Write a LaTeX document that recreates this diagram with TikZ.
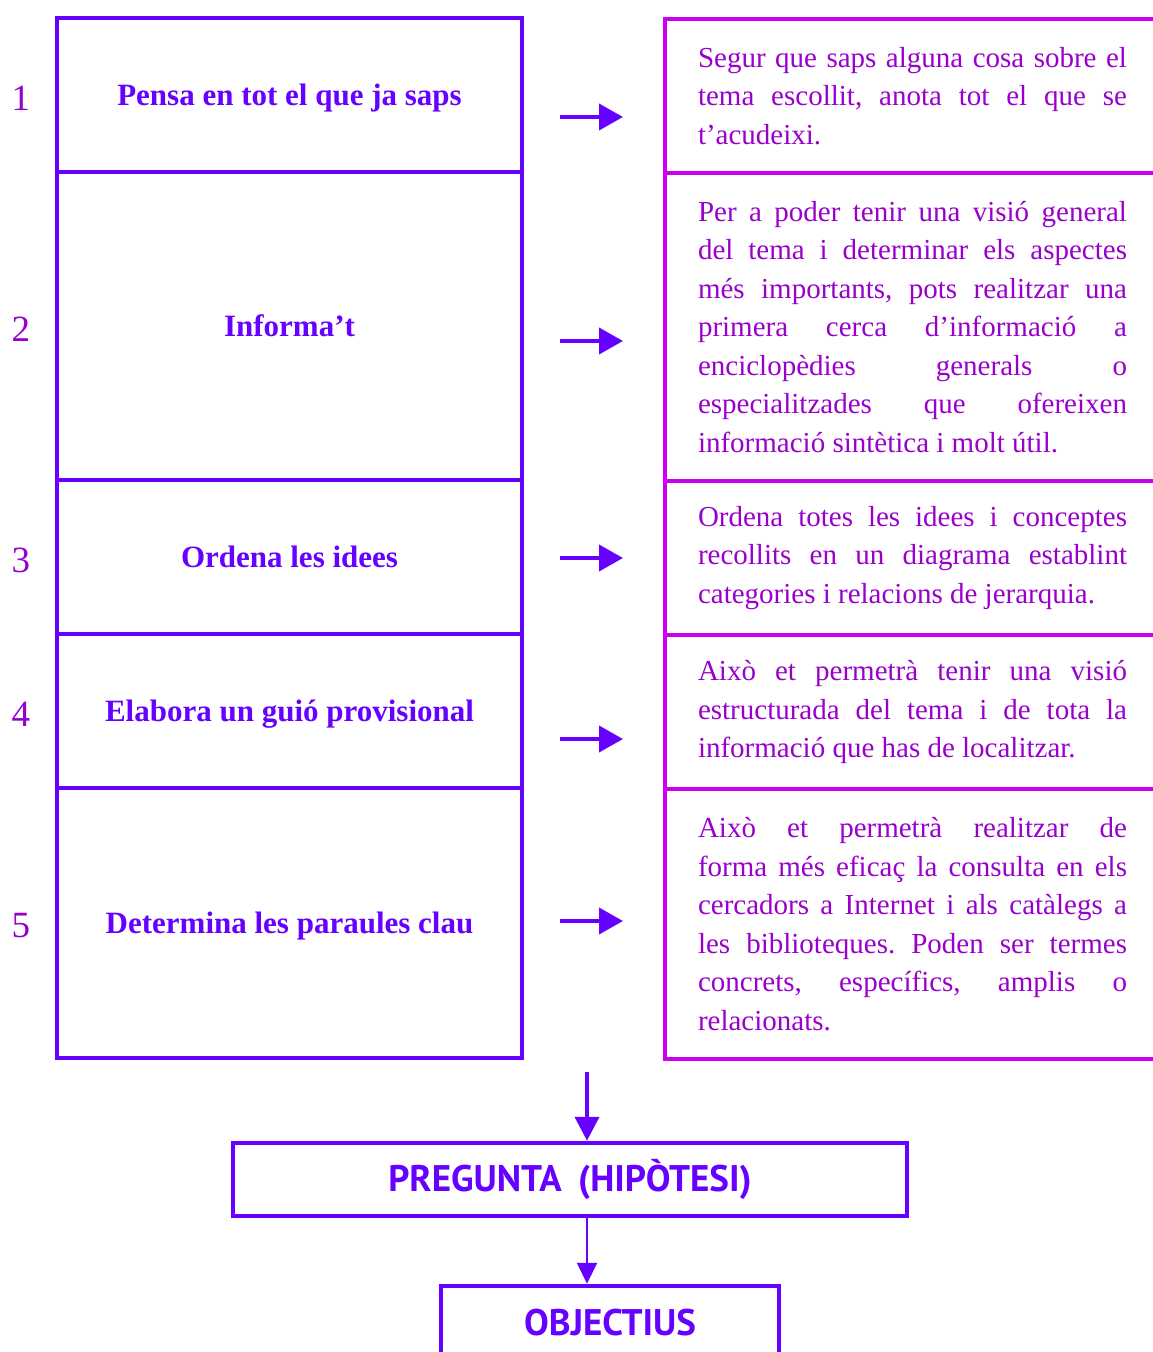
\documentclass[tikz,border=0pt]{standalone}
\usepackage{fontspec}
\setmainfont{Liberation Serif}
\newfontfamily\ptsans{PT Sans}
\usetikzlibrary{arrows.meta}
\definecolor{violetL}{RGB}{102,0,255}
\definecolor{magR}{RGB}{204,0,238}
\definecolor{txtR}{RGB}{153,0,204}
\definecolor{numC}{RGB}{150,0,205}
\hyphenpenalty=10000
\exhyphenpenalty=10000
\frenchspacing
\begin{document}
\begin{tikzpicture}[x=1pt,y=-1pt,
  lbox/.style={draw=violetL, line width=4.5pt, minimum width=465pt, inner sep=0pt,
    text=violetL, text depth=0pt, font=\fontsize{31}{36}\selectfont\bfseries},
  rbox/.style={draw=magR, line width=4.5pt, minimum width=495pt, inner sep=0pt,
    text=txtR, text width=429pt, align=justify,
    font=\fontsize{29}{38.5}\selectfont},
  num/.style={text=numC, font=\fontsize{37}{40}\selectfont, inner sep=0pt},
  harr/.style={draw=violetL, line width=4pt, -{Triangle[length=24pt,width=26pt]}},
  varr/.style={draw=violetL, line width=4pt, -{Triangle[length=24pt,width=24pt]}},
  tarr/.style={draw=violetL, line width=2pt, -{Triangle[length=21pt,width=20pt]}},
  sbox/.style={draw=violetL, line width=4.5pt, inner sep=0pt, text=violetL,
    font=\ptsans\bfseries\fontsize{37}{40}\selectfont}]
\useasboundingbox (0,0) rectangle (1153,1352);
\clip (0,0) rectangle (1153,1352);

% left boxes
\node[lbox, minimum height=154pt] (L1) at (289.5,95) {Pensa en tot el que ja saps};
\node[lbox, minimum height=308pt] (L2) at (289.5,326) {Informa’t};
\node[lbox, minimum height=154pt] (L3) at (289.5,557) {Ordena les idees};
\node[lbox, minimum height=154pt] (L4) at (289.5,711) {Elabora un guió provisional};
\node[lbox, minimum height=270pt] (L5) at (289.5,923) {Determina les paraules clau};

% numbers
\node[num] (N1) at (21,98) {1};
\node[num] (N2) at (21,329) {2};
\node[num] (N3) at (21,560) {3};
\node[num] (N4) at (21,714) {4};
\node[num] (N5) at (21,926) {5};

% right boxes
\node[rbox, minimum height=154pt] (R1) at (912.5,96) {Segur que saps alguna cosa sobre el\linebreak tema escollit, anota tot el que se\linebreak t’acudeixi.};
\node[rbox, minimum height=308pt] (R2) at (912.5,327) {Per a poder tenir una visió general\linebreak del tema i determinar els aspectes\linebreak més importants, pots realitzar una\linebreak primera cerca d’informació a\linebreak enciclopèdies generals o\linebreak especialitzades que ofereixen\linebreak informació sintètica i molt útil.};
\node[rbox, minimum height=154pt] (R3) at (912.5,558) {Ordena totes les idees i conceptes\linebreak recollits en un diagrama establint\linebreak categories i relacions de jerarquia.};
\node[rbox, minimum height=154pt] (R4) at (912.5,712) {Això et permetrà tenir una visió\linebreak estructurada del tema i de tota la\linebreak informació que has de localitzar.};
\node[rbox, minimum height=270pt] (R5) at (912.5,924) {Això et permetrà realitzar de\linebreak forma més eficaç la consulta en els\linebreak cercadors a Internet i als catàlegs a\linebreak les biblioteques. Poden ser termes\linebreak concrets, específics, amplis o\linebreak relacionats.};

% horizontal arrows
\coordinate (h1a) at (560,117); \coordinate (h1b) at (623,117);
\coordinate (h2a) at (560,341); \coordinate (h2b) at (623,341);
\coordinate (h3a) at (560,558); \coordinate (h3b) at (623,558);
\coordinate (h4a) at (560,739); \coordinate (h4b) at (623,739);
\coordinate (h5a) at (560,921); \coordinate (h5b) at (623,921);
\draw[harr] (h1a) -- (h1b);
\draw[harr] (h2a) -- (h2b);
\draw[harr] (h3a) -- (h3b);
\draw[harr] (h4a) -- (h4b);
\draw[harr] (h5a) -- (h5b);

% bottom boxes
\node[sbox, minimum width=674pt, minimum height=73pt] (P) at (570,1179.5) {PREGUNTA\hspace{0.45em}(HIPÒTESI)};
\node[sbox, minimum width=338pt, minimum height=74pt] (O) at (610,1323) {OBJECTIUS};

\coordinate (ca) at (587,1072);
\draw[varr] (ca) -- (ca |- P.north);
\draw[tarr] (P.south -| ca) -- (ca |- O.north);
\end{tikzpicture}
\end{document}
